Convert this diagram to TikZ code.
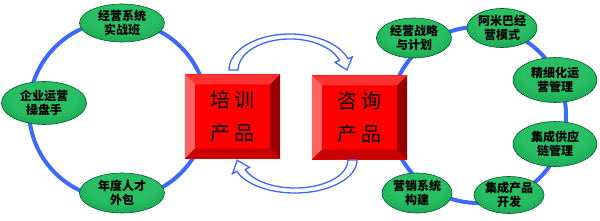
\documentclass[tikz,border=0pt]{standalone}
\usepackage{fontspec}
\newfontfamily\cjk{Noto Sans CJK SC}
\usetikzlibrary{calc,shapes.geometric}
\definecolor{ringblue}{RGB}{60,105,250}
\definecolor{lg}{RGB}{40,190,100}
\definecolor{mg}{RGB}{15,150,70}
\definecolor{dg}{RGB}{0,95,40}
\definecolor{bvtop}{RGB}{255,50,50}
\definecolor{bvleft}{RGB}{255,100,100}
\definecolor{bvright}{RGB}{150,0,0}
\definecolor{bvbot}{RGB}{200,0,0}
\pgfdeclareradialshading{ellg}{\pgfpoint{0bp}{10bp}}{color(0bp)=(lg); color(20bp)=(lg); color(40bp)=(mg); color(55bp)=(dg); color(70bp)=(dg)}
\tikzset{
  ring/.style={draw=ringblue, line width=4pt},
  oval/.style={ellipse, shading=ellg, draw=dg, line width=0.6pt, inner sep=0pt,
    font=\cjk\bfseries\fontsize{12}{14}\selectfont, align=center, text=black},
  prodbox/.style={rectangle, fill=red, inner sep=0pt, minimum width=95pt, minimum height=84pt,
    font=\cjk\fontsize{20}{33}\selectfont, align=center, text=black},
  hollow/.style={draw=ringblue, fill=white, line width=1.3pt, line join=miter}
}
\newcommand{\bevel}[1]{%
  \fill[bvtop] (#1.north west) -- (#1.north east) -- ($(#1.north east)+(-10,-10)$) -- ($(#1.north west)+(10,-10)$) -- cycle;
  \fill[bvleft] (#1.north west) -- ($(#1.north west)+(10,-10)$) -- ($(#1.south west)+(10,10)$) -- (#1.south west) -- cycle;
  \fill[bvright] (#1.north east) -- ($(#1.north east)+(-10,-10)$) -- ($(#1.south east)+(-10,10)$) -- (#1.south east) -- cycle;
  \fill[bvbot] (#1.south west) -- ($(#1.south west)+(10,10)$) -- ($(#1.south east)+(-10,10)$) -- (#1.south east) -- cycle;
}
\begin{document}
\begin{tikzpicture}[x=1pt,y=1pt]
\useasboundingbox (0,0) rectangle (600,220);
% rings
\draw[ring] (118,110) circle[radius=89];
\draw[ring] (478,105) circle[radius=88];
% boxes
\node[prodbox] (train) at (232.5,103.5) {};
\bevel{train}
\node[prodbox, fill=none] (trainT) at (train.center) {培\hspace{4pt}训\\产\hspace{4pt}品};
\node[prodbox] (consult) at (359.5,102.5) {};
\bevel{consult}
\node[prodbox, fill=none] (consultT) at (consult.center) {咨\hspace{4pt}询\\产\hspace{4pt}品};
% hollow arrows
\draw[hollow] (229,150) arc[start angle=180, end angle=18, x radius=61, y radius=36]
  -- (352.3,163.1) -- (347,149.9) -- (335.1,157.7) -- (339.5,159.6)
  arc[start angle=18, end angle=180, x radius=52, y radius=31] -- cycle;
\draw[hollow] (357,60) arc[start angle=0, end angle=-160, x radius=62, y radius=33]
  -- (232.6,46.4) -- (237.2,59.8) -- (249.4,52.7) -- (245.2,50.4)
  arc[start angle=-160, end angle=0, x radius=53, y radius=28] -- cycle;
% left ovals
\node[oval, minimum width=85pt, minimum height=38pt] (l1) at (122,197) {经营系统\\实战班};
\node[oval, minimum width=85pt, minimum height=43pt] (l2) at (44,117) {企业运营\\操盘手};
\node[oval, minimum width=85pt, minimum height=40pt] (l3) at (122,27) {年度人才\\外包};
% right ovals
\node[oval, minimum width=75pt, minimum height=40pt] (r1) at (414,182) {经营战略\\与计划};
\node[oval, minimum width=70pt, minimum height=39pt] (r2) at (502,192) {阿米巴经\\营模式};
\node[oval, minimum width=84pt, minimum height=45pt] (r3) at (555,140) {精细化运\\营管理};
\node[oval, minimum width=84pt, minimum height=45pt] (r4) at (555,76) {集成供应\\链管理};
\node[oval, minimum width=70pt, minimum height=37pt] (r5) at (509,25) {集成产品\\开发};
\node[oval, minimum width=70pt, minimum height=40pt] (r6) at (417,27) {营销系统\\构建};
\end{tikzpicture}
\end{document}
